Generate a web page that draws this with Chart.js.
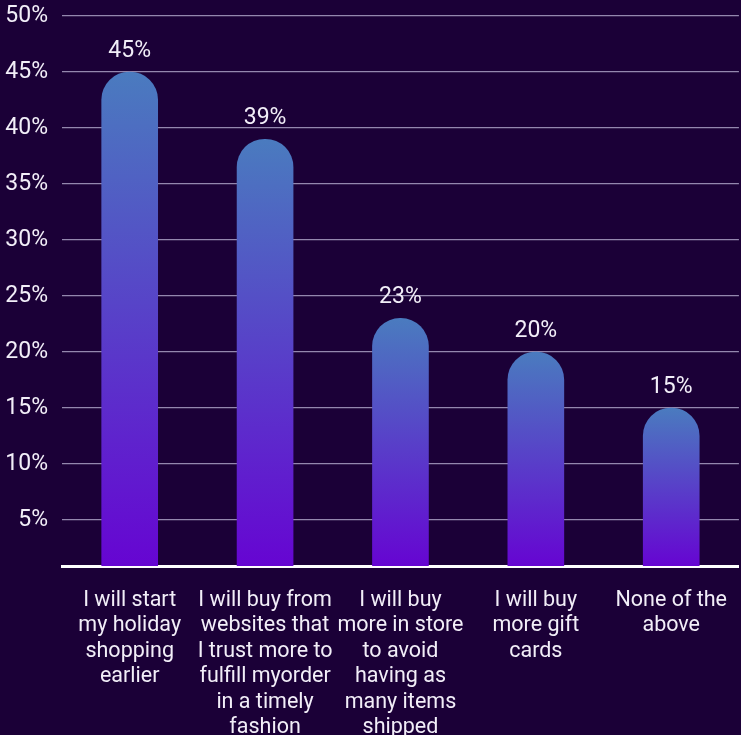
<!DOCTYPE html>
<html>
<head>
<meta charset="utf-8">
<script src="https://cdn.jsdelivr.net/npm/chart.js@4.4.0/dist/chart.umd.min.js"></script>
<style>
    html, body { margin: 0; padding: 0; background: #1b0037; }
    #wrap { width: 741px; height: 735px; }
</style>
</head>
<body>
<div id="wrap"><canvas id="grafico"></canvas></div>
<script>
// Datos del gráfico
const categorias = [
    ['I will start', 'my holiday', 'shopping', 'earlier'],
    ['I will buy from', 'websites that', 'I trust more to', 'fulfill myorder', 'in a timely', 'fashion'],
    ['I will buy', 'more in store', 'to avoid', 'having as', 'many items', 'shipped'],
    ['I will buy', 'more gift', 'cards'],
    ['None of the', 'above']
];
const valores = [45, 39, 23, 20, 15];
const ticksY = [5, 10, 15, 20, 25, 30, 35, 40, 45, 50];

const COLORES = {
    fondo: '#1b0037',
    texto: '#f2eef8',
    arriba: '#4a7bbf',
    abajo: '#6605d2',
    rejilla: 'rgba(190, 180, 215, 0.75)'
};

// Degradado por barra, de su tope a la base
function colorBarra(ctx) {
    const chart = ctx.chart;
    const area = chart.chartArea;
    if (!area || ctx.dataIndex === undefined) return COLORES.arriba;
    const y = chart.scales.y;
    const tope = y.getPixelForValue(valores[ctx.dataIndex]);
    const g = chart.ctx.createLinearGradient(0, tope, 0, area.bottom);
    g.addColorStop(0, COLORES.arriba);
    g.addColorStop(1, COLORES.abajo);
    return g;
}

// Etiquetas de valor encima de cada barra
const etiquetasValor = {
    id: 'etiquetasValor',
    afterDatasetsDraw(chart) {
        const ctx = chart.ctx;
        const meta = chart.getDatasetMeta(0);
        ctx.save();
        ctx.fillStyle = COLORES.texto;
        ctx.font = '23px Roboto';
        ctx.textAlign = 'center';
        ctx.textBaseline = 'alphabetic';
        meta.data.forEach(function(barra, i) {
            ctx.fillText(valores[i] + '%', barra.x, barra.y - 15);
        });
        ctx.restore();
    }
};

new Chart(document.getElementById('grafico'), {
    type: 'bar',
    data: {
        labels: categorias,
        datasets: [{
            data: valores,
            backgroundColor: colorBarra,
            borderRadius: { topLeft: 28, topRight: 28 },
            borderSkipped: 'start',
            barThickness: 56
        }]
    },
    options: {
        responsive: true,
        maintainAspectRatio: false,
        animation: false,
        layout: { padding: { top: 16, right: 0, left: 0, bottom: 0 } },
        plugins: {
            legend: { display: false },
            tooltip: { enabled: false }
        },
        scales: {
            x: {
                grid: { display: false },
                border: { color: '#ffffff', width: 3 },
                ticks: {
                    color: COLORES.texto,
                    font: { family: 'Roboto', size: 21.5, lineHeight: 1.18 },
                    padding: 14,
                    maxRotation: 0,
                    autoSkip: false
                },
                afterFit: function(axis) { axis.height = 169; }
            },
            y: {
                min: 0.9,
                max: 50,
                border: { display: false },
                grid: {
                    color: COLORES.rejilla,
                    lineWidth: 1.3,
                    drawTicks: false
                },
                ticks: {
                    color: COLORES.texto,
                    font: { family: 'Roboto', size: 23 },
                    padding: 14,
                    callback: function(v) { return v + '%'; }
                },
                afterBuildTicks: function(axis) {
                    axis.ticks = ticksY.map(function(v) { return { value: v }; });
                },
                afterFit: function(axis) {
                    axis.width = 62;
                    axis.paddingTop = 0;
                    axis.paddingBottom = 0;
                }
            }
        }
    },
    plugins: [etiquetasValor]
});
</script>
</body>
</html>
